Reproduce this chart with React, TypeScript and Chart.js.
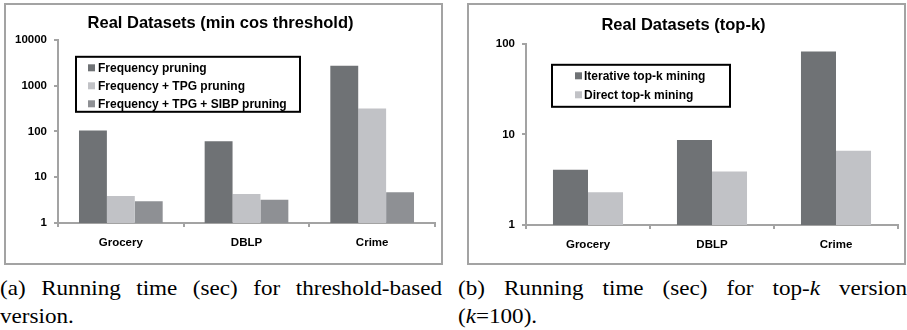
import React, { useEffect, useRef } from "react";
import { Chart, registerables } from "chart.js";

Chart.register(...registerables);

// ---- data ----
const categories = ["Grocery", "DBLP", "Crime"];

const thresholdTitle = "Real Datasets (min cos threshold)";
const thresholdSeriesNames = [
  "Frequency pruning",
  "Frequency + TPG pruning",
  "Frequency + TPG + SIBP pruning",
];
const frequencyPruning = [105, 61, 2700];
const tpgPruning = [3.9, 4.3, 315];
const sibpPruning = [3.0, 3.2, 4.7];
const thresholdTicks = [1, 10, 100, 1000, 10000];

const topkTitle = "Real Datasets (top-k)";
const topkSeriesNames = ["Iterative top-k mining", "Direct top-k mining"];
const iterativeTopk = [4.06, 8.7, 82];
const directTopk = [2.3, 3.9, 6.6];
const topkTicks = [1, 10, 100];

// ---- styles ----
const SANS = '"Liberation Sans", Arial, Helvetica, sans-serif';
const DARK = "#6f7275";
const LIGHT = "#c1c2c6";
const MID = "#8e9094";
const AXIS = "#a3a3a3";
const CANVAS_W = 435;
const CANVAS_H = 258;
const CAPTION_STRETCH = 1.1;

type LegendOpts = {
  dx: number;
  dy: number;
  w: number;
  h: number;
  sq: number;
  tx: number;
  rows: number[];
};

function boxLegend(o: LegendOpts) {
  return {
    id: "boxLegend",
    afterDatasetsDraw(chart: any) {
      const { ctx, chartArea } = chart;
      const x = chartArea.left + o.dx;
      const y = chartArea.top + o.dy;
      ctx.save();
      ctx.fillStyle = "#ffffff";
      ctx.fillRect(x, y, o.w, o.h);
      ctx.strokeStyle = "#000000";
      ctx.lineWidth = 2;
      ctx.strokeRect(x, y, o.w, o.h);
      ctx.font = `bold 12px ${SANS}`;
      ctx.textBaseline = "middle";
      ctx.textAlign = "left";
      chart.data.datasets.forEach((ds: any, i: number) => {
        const cy = y + o.rows[i];
        ctx.fillStyle = ds.backgroundColor;
        ctx.fillRect(x + o.sq, cy - 3.5, 7, 7);
        ctx.fillStyle = "#000000";
        ctx.fillText(ds.label, x + o.tx, cy + 0.5);
      });
      ctx.restore();
    },
  };
}

function buildConfig(
  title: string,
  titlePad: { top: number; bottom: number },
  datasets: any[],
  ticks: number[],
  yWidth: number,
  xHeight: number,
  catPct: number,
  legend: LegendOpts
): any {
  const tickFont = { family: SANS, size: 11.5, weight: "bold" as const };
  return {
    type: "bar",
    data: { labels: categories, datasets },
    options: {
      animation: false,
      responsive: false,
      maintainAspectRatio: false,
      layout: { padding: { left: 0, right: 6, top: 0, bottom: 0 } },
      datasets: {
        bar: { categoryPercentage: catPct, barPercentage: 1, borderWidth: 0 },
      },
      plugins: {
        legend: { display: false },
        tooltip: { enabled: false },
        title: {
          display: true,
          text: title,
          color: "#000000",
          font: { family: SANS, size: 16.5, weight: "bold" },
          padding: titlePad,
        },
      },
      scales: {
        x: {
          type: "category",
          offset: true,
          afterFit: (s: any) => {
            s.height = xHeight;
          },
          grid: {
            offset: true,
            drawOnChartArea: false,
            drawTicks: true,
            tickLength: 4,
            color: AXIS,
            lineWidth: 2,
          },
          border: { display: true, color: AXIS, width: 2 },
          ticks: { color: "#000000", font: tickFont, padding: 9 },
        },
        y: {
          type: "logarithmic",
          min: ticks[0],
          max: ticks[ticks.length - 1],
          afterBuildTicks: (s: any) => {
            s.ticks = ticks.map((v) => ({ value: v }));
          },
          afterFit: (s: any) => {
            s.width = yWidth;
          },
          grid: {
            drawOnChartArea: false,
            drawTicks: true,
            tickLength: 4,
            color: AXIS,
            lineWidth: 2,
          },
          border: { display: true, color: AXIS, width: 2 },
          ticks: {
            color: "#000000",
            font: tickFont,
            padding: 7,
            callback: (v: any) => String(v),
          },
        },
      },
    },
    plugins: [boxLegend(legend)],
  };
}

function ChartBox(props: { left: number; config: () => any }) {
  const ref = useRef<HTMLCanvasElement | null>(null);
  useEffect(() => {
    if (!ref.current) return;
    const chart = new Chart(ref.current, props.config());
    return () => chart.destroy();
  }, []);
  return (
    <div
      style={{
        position: "absolute",
        left: props.left,
        top: 3,
        width: CANVAS_W,
        height: CANVAS_H,
        border: `2px solid ${AXIS}`,
        background: "#ffffff",
      }}
    >
      <canvas
        ref={ref}
        width={CANVAS_W}
        height={CANVAS_H}
        style={{ display: "block", width: CANVAS_W, height: CANVAS_H }}
      />
    </div>
  );
}

const thresholdConfig = () =>
  buildConfig(
    thresholdTitle,
    { top: 9, bottom: 6 },
    [
      { label: thresholdSeriesNames[0], data: frequencyPruning, backgroundColor: DARK },
      { label: thresholdSeriesNames[1], data: tpgPruning, backgroundColor: LIGHT },
      { label: thresholdSeriesNames[2], data: sibpPruning, backgroundColor: MID },
    ],
    thresholdTicks,
    52,
    40,
    0.666,
    { dx: 18, dy: 17, w: 224, h: 55, sq: 12, tx: 22, rows: [11, 29, 47] }
  );

const topkConfig = () =>
  buildConfig(
    topkTitle,
    { top: 11, bottom: 8 },
    [
      { label: topkSeriesNames[0], data: iterativeTopk, backgroundColor: DARK },
      { label: topkSeriesNames[1], data: directTopk, backgroundColor: LIGHT },
    ],
    topkTicks,
    57,
    38,
    0.565,
    { dx: 26, dy: 21, w: 178, h: 42, sq: 23, tx: 32, rows: [11, 30] }
  );

const captionStyle: React.CSSProperties = {
  position: "absolute",
  top: 274,
  fontFamily: '"Liberation Serif", "Times New Roman", Times, serif',
  fontSize: 21,
  lineHeight: "28px",
  color: "#000000",
  transform: `scaleX(${CAPTION_STRETCH})`,
  transformOrigin: "left top",
};

const justifyLine: React.CSSProperties = {
  textAlign: "justify",
  textAlignLast: "justify",
};

export default function App() {
  return (
    <div
      style={{
        position: "fixed",
        left: 0,
        top: 0,
        width: 907,
        height: 330,
        background: "#ffffff",
        overflow: "hidden",
      }}
    >
      <ChartBox left={4} config={thresholdConfig} />
      <ChartBox left={467} config={topkConfig} />
      <div style={{ ...captionStyle, left: 0, width: 442 / CAPTION_STRETCH }}>
        <div style={justifyLine}>(a) Running time (sec) for threshold-based</div>
        <div>version.</div>
      </div>
      <div style={{ ...captionStyle, left: 458, width: 449 / CAPTION_STRETCH }}>
        <div style={justifyLine}>
          (b) Running time (sec) for top-<i>k</i> version
        </div>
        <div>
          (<i>k</i>=100).
        </div>
      </div>
    </div>
  );
}
